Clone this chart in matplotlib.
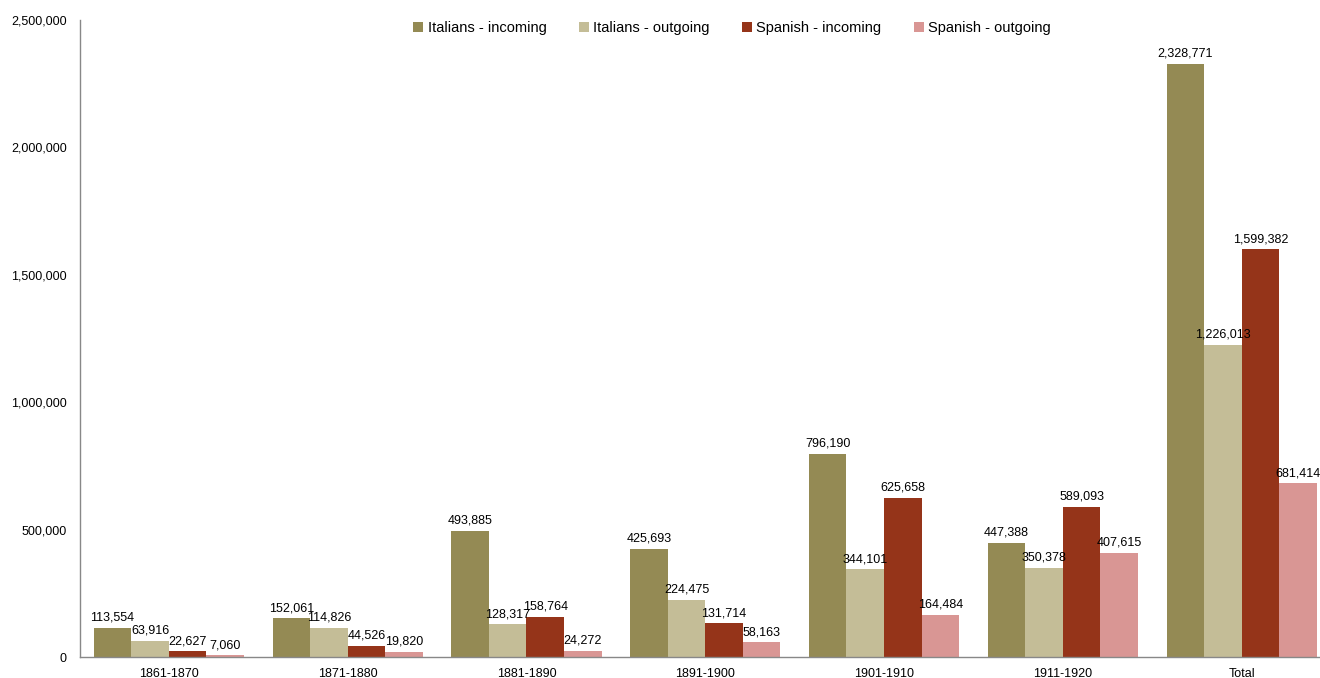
import matplotlib
matplotlib.use("Agg")
import matplotlib.pyplot as plt
import numpy as np

plt.rcParams['font.family'] = ['Liberation Sans', 'DejaVu Sans']

categories = ["1861-1870", "1871-1880", "1881-1890", "1891-1900", "1901-1910", "1911-1920", "Total"]
series_names = ["Italians - incoming", "Italians - outgoing", "Spanish - incoming", "Spanish - outgoing"]
italians_in = [113554, 152061, 493885, 425693, 796190, 447388, 2328771]
italians_out = [63916, 114826, 128317, 224475, 344101, 350378, 1226013]
spanish_in = [22627, 44526, 158764, 131714, 625658, 589093, 1599382]
spanish_out = [7060, 19820, 24272, 58163, 164484, 407615, 681414]
colors = ["#948A54", "#C4BD97", "#953419", "#D99694"]
yticks = [0, 500000, 1000000, 1500000, 2000000, 2500000]

fig = plt.figure(figsize=(13.2, 6.78), dpi=100)
ax = fig.add_axes([79.5/1320, 1-657/678, (1331-79.5)/1320, 637/678])

x = np.arange(len(categories))
w = 0.21
data = [italians_in, italians_out, spanish_in, spanish_out]
for i, (vals, c, name) in enumerate(zip(data, colors, series_names)):
    pos = x + (i - 1.5) * w
    ax.bar(pos, vals, width=w, color=c, label=name, edgecolor='none')
    for xp, v in zip(pos, vals):
        ax.annotate(f"{v:,}", (xp, v), xytext=(0, 3), textcoords='offset points',
                    ha='center', va='bottom', fontsize=9, color='#000000')

ax.set_xlim(-0.5, len(categories) - 0.5)
ax.set_ylim(0, 2500000)
ax.set_yticks(yticks)
ax.set_yticklabels([f"{t:,}" for t in yticks], fontsize=9)
ax.set_xticks(x)
ax.set_xticklabels(categories, fontsize=9)
ax.tick_params(axis='both', length=0, pad=8)
ax.tick_params(axis='y', pad=9)
for s in ['top', 'right']:
    ax.spines[s].set_visible(False)
for s in ['left', 'bottom']:
    ax.spines[s].set_color('#888888')
    ax.spines[s].set_linewidth(1)

fig.legend(loc='center', bbox_to_anchor=(732/1320, 1-28/678), ncol=4, frameon=False,
           fontsize=10.5, handlelength=0.7, handleheight=0.7, handletextpad=0.3,
           columnspacing=2.2)

fig.savefig("out.png", dpi=100)
